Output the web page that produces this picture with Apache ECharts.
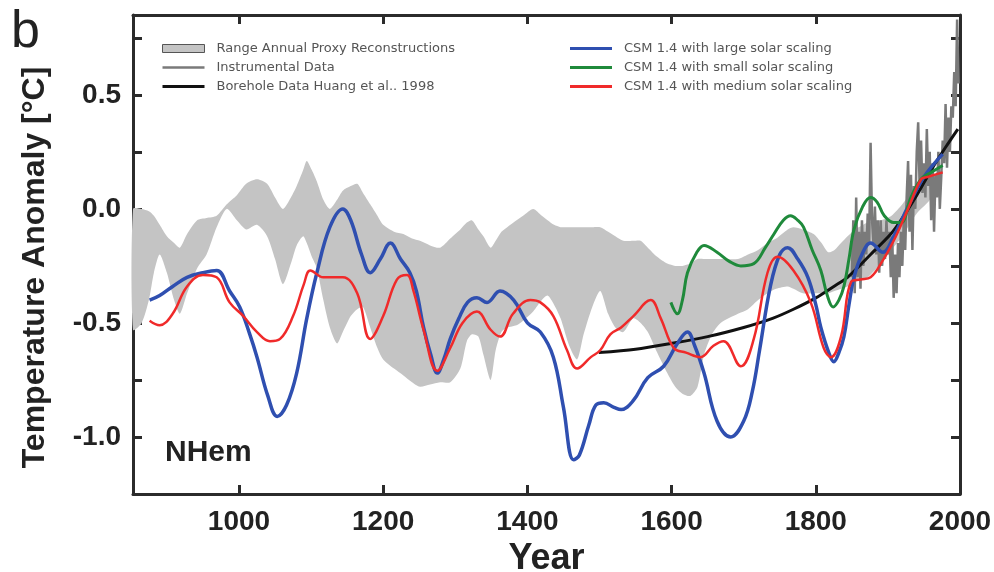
<!DOCTYPE html>
<html>
<head>
<meta charset="utf-8">
<style>
    html, body {
        margin: 0;
        padding: 0;
        background: #fff;
    }

    #main {
        width: 994px;
        height: 572px;
    }
</style>
<script src="https://cdn.jsdelivr.net/npm/echarts@6/dist/echarts.min.js"></script>
</head>
<body>
<div id="main"></div>
<script>
    // 代理重建范围（上下边界）
    var bandYears = [853, 865, 875, 882, 890, 900, 910, 918, 928, 942, 955, 969, 983, 997, 1010, 1025, 1039, 1050, 1061, 1072,
        1080, 1089, 1094, 1101, 1108, 1117, 1126, 1136, 1144, 1155, 1164, 1172, 1182, 1192, 1200, 1215, 1228, 1240, 1251, 1265,
        1279, 1293, 1307, 1316, 1323, 1332, 1339, 1349, 1356, 1364, 1372, 1385, 1394, 1408, 1420, 1428, 1437, 1446, 1458, 1469,
        1478, 1490, 1501, 1512, 1522, 1533, 1547, 1557, 1567, 1580, 1594, 1605, 1615, 1626, 1636, 1645, 1656, 1668, 1692, 1706,
        1720, 1733, 1745, 1761, 1769, 1782, 1797, 1808, 1817, 1826, 1835, 1844, 1855, 1872, 1890, 1905, 1920, 1940, 1960];
    var bandHigh = [0.00, 0.00, -0.01, -0.03, -0.07, -0.12, -0.15, -0.17, -0.11, -0.05, -0.04, -0.03, 0.02, 0.06, 0.11, 0.13, 0.11, 0.05, 0.00, 0.05,
        0.10, 0.17, 0.21, 0.17, 0.12, 0.04, 0.00, 0.04, 0.08, 0.10, 0.11, 0.07, 0.02, -0.03, -0.07, -0.10, -0.11, -0.13, -0.14, -0.16,
        -0.17, -0.13, -0.09, -0.06, -0.05, -0.09, -0.12, -0.17, -0.14, -0.10, -0.08, -0.05, -0.03, 0.00, -0.03, -0.05, -0.07, -0.08, -0.08, -0.08,
        -0.08, -0.08, -0.08, -0.10, -0.12, -0.14, -0.14, -0.14, -0.17, -0.21, -0.24, -0.25, -0.25, -0.24, -0.22, -0.22, -0.22, -0.22, -0.22, -0.20,
        -0.18, -0.15, -0.13, -0.09, -0.08, -0.09, -0.11, -0.15, -0.19, -0.18, -0.15, -0.12, -0.09, -0.06, -0.05, -0.03, 0.02, 0.10, 0.15];
    var bandLow = [-0.53, -0.50, -0.40, -0.28, -0.20, -0.28, -0.40, -0.46, -0.37, -0.26, -0.20, -0.08, 0.00, -0.05, -0.09, -0.07, -0.12, -0.22, -0.33, -0.24,
        -0.16, -0.12, -0.15, -0.21, -0.26, -0.40, -0.52, -0.59, -0.54, -0.47, -0.44, -0.43, -0.52, -0.61, -0.66, -0.70, -0.73, -0.76, -0.78, -0.77,
        -0.76, -0.76, -0.70, -0.58, -0.55, -0.56, -0.64, -0.75, -0.62, -0.54, -0.52, -0.51, -0.49, -0.45, -0.40, -0.38, -0.42, -0.48, -0.60, -0.66,
        -0.55, -0.43, -0.36, -0.46, -0.52, -0.54, -0.48, -0.50, -0.54, -0.63, -0.72, -0.78, -0.81, -0.82, -0.78, -0.64, -0.55, -0.50, -0.46, -0.44,
        -0.40, -0.37, -0.35, -0.34, -0.35, -0.37, -0.37, -0.37, -0.37, -0.36, -0.35, -0.34, -0.32, -0.30, -0.24, -0.18, -0.12, -0.02, 0.05];

    // 器测数据
    var instYears = [1850, 1852, 1854, 1856, 1858, 1860, 1862, 1864, 1866, 1868, 1870, 1872, 1874, 1876, 1878, 1880, 1882, 1884, 1886, 1888,
        1890, 1892, 1894, 1896, 1898, 1900, 1902, 1904, 1906, 1908, 1910, 1912, 1914, 1916, 1918, 1920, 1922, 1924, 1926, 1928,
        1930, 1932, 1934, 1936, 1938, 1940, 1942, 1944, 1946, 1948, 1950, 1952, 1954, 1956, 1958, 1960, 1962, 1964, 1966, 1968,
        1970, 1972, 1974, 1976, 1978, 1980, 1982, 1984, 1986, 1988, 1990, 1992, 1994, 1996, 1998];
    var instValues = [-0.30, -0.05, -0.37, 0.05, -0.30, -0.10, -0.35, -0.05, -0.25, -0.10, -0.20, -0.02, -0.15, 0.29, -0.05, -0.15, 0.01, -0.20, -0.05, -0.28,
        -0.05, -0.25, -0.10, -0.22, -0.05, -0.20, -0.10, -0.30, -0.12, -0.39, -0.20, -0.37, -0.15, -0.30, -0.10, -0.25, -0.05, -0.18, 0.05, 0.21,
        -0.10, 0.15, -0.18, 0.10, 0.00, 0.25, 0.38, 0.10, 0.30, 0.07, 0.20, 0.05, 0.35, 0.10, 0.25, -0.05, 0.20, -0.10, 0.15, 0.05,
        0.25, 0.00, 0.14, 0.30, 0.20, 0.46, 0.18, 0.40, 0.25, 0.45, 0.40, 0.60, 0.45, 0.83, 0.55];

    // 钻孔数据 Huang et al. 1998
    var boreYears = [1499, 1550, 1599, 1650, 1700, 1740, 1769, 1800, 1825, 1844, 1876, 1904, 1918, 1940, 1960, 1980, 1997];
    var boreValues = [-0.63, -0.615, -0.59, -0.56, -0.52, -0.48, -0.44, -0.39, -0.34, -0.30, -0.20, -0.11, -0.05, 0.06, 0.17, 0.27, 0.35];

    // CSM 1.4 large solar scaling
    var largeYears = [876, 890, 908, 928, 950, 969, 987, 1001, 1015, 1025, 1040, 1053, 1066, 1080, 1094, 1108, 1126, 1144, 1155, 1170,
        1182, 1196, 1210, 1224, 1237, 1246, 1256, 1266, 1275, 1284, 1293, 1305, 1317, 1330, 1344, 1362, 1381, 1400, 1418, 1436,
        1450, 1464, 1472, 1485, 1495, 1506, 1520, 1530, 1547, 1567, 1589, 1608, 1622, 1632, 1645, 1663, 1682, 1700, 1712, 1722,
        1737, 1750, 1761, 1775, 1789, 1800, 1807, 1818, 1825, 1832, 1839, 1846, 1853, 1864, 1876, 1893, 1908, 1928, 1950, 1976];
    var largeValues = [-0.40, -0.38, -0.34, -0.30, -0.28, -0.27, -0.36, -0.43, -0.55, -0.65, -0.82, -0.91, -0.86, -0.72, -0.48, -0.28, -0.08, 0.00, -0.05, -0.20,
        -0.28, -0.22, -0.15, -0.22, -0.28, -0.36, -0.52, -0.64, -0.72, -0.66, -0.57, -0.48, -0.41, -0.39, -0.41, -0.36, -0.40, -0.50, -0.54, -0.65,
        -0.87, -1.10, -1.08, -0.95, -0.86, -0.85, -0.87, -0.88, -0.84, -0.74, -0.69, -0.59, -0.54, -0.60, -0.72, -0.93, -1.00, -0.93, -0.80, -0.62,
        -0.34, -0.20, -0.17, -0.22, -0.30, -0.42, -0.52, -0.63, -0.67, -0.63, -0.56, -0.42, -0.30, -0.20, -0.15, -0.19, -0.12, 0.01, 0.14, 0.24];

    // CSM 1.4 small solar scaling
    var smallYears = [1599, 1608, 1615, 1622, 1635, 1645, 1663, 1680, 1696, 1714, 1730, 1742, 1755, 1765, 1775, 1783, 1795, 1807, 1816, 1824,
        1832, 1839, 1846, 1853, 1865, 1876, 1885, 1895, 1908, 1918, 1932, 1946, 1960, 1976];
    var smallValues = [-0.41, -0.46, -0.40, -0.28, -0.19, -0.16, -0.19, -0.23, -0.25, -0.24, -0.17, -0.11, -0.05, -0.03, -0.05, -0.08, -0.18, -0.27, -0.38, -0.43,
        -0.40, -0.34, -0.22, -0.09, 0.01, 0.05, 0.03, -0.03, -0.06, -0.06, 0.05, 0.13, 0.16, 0.19];

    // CSM 1.4 medium solar scaling
    var mediumYears = [876, 890, 908, 928, 950, 969, 987, 1006, 1025, 1043, 1057, 1075, 1090, 1099, 1117, 1144, 1164, 1182, 1200, 1219,
        1233, 1242, 1256, 1275, 1293, 1310, 1330, 1349, 1362, 1380, 1404, 1418, 1436, 1455, 1469, 1488, 1501, 1515, 1530, 1547,
        1571, 1585, 1603, 1620, 1640, 1658, 1672, 1696, 1714, 1733, 1747, 1769, 1793, 1811, 1821, 1835, 1849, 1862, 1876, 1894,
        1908, 1928, 1946, 1955, 1976];
    var mediumValues = [-0.49, -0.51, -0.46, -0.34, -0.29, -0.30, -0.41, -0.47, -0.54, -0.58, -0.57, -0.47, -0.33, -0.27, -0.30, -0.30, -0.37, -0.57, -0.47, -0.31,
        -0.29, -0.36, -0.53, -0.71, -0.61, -0.50, -0.45, -0.53, -0.56, -0.46, -0.40, -0.41, -0.47, -0.62, -0.70, -0.65, -0.62, -0.55, -0.52, -0.47,
        -0.40, -0.48, -0.61, -0.63, -0.65, -0.60, -0.58, -0.69, -0.57, -0.28, -0.21, -0.27, -0.41, -0.61, -0.65, -0.56, -0.32, -0.31, -0.30, -0.22,
        -0.14, 0.00, 0.13, 0.14, 0.16];

    var xTicks = [1000, 1200, 1400, 1600, 1800, 2000];
    var yTicks = [-1.0, -0.75, -0.5, -0.25, 0.0, 0.25, 0.5, 0.75];
    var yLabels = [-1.0, -0.5, 0.0, 0.5];

    function pairs(xs, ys) {
        return xs.map(function (x, i) {
            return [x, ys[i]];
        });
    }

    var axisFont = '"Liberation Sans", Arial, sans-serif';
    var frameLine = {color: '#2b2b2b', width: 3};
    var tickStyle = {color: '#2b2b2b', width: 3};
    var legendText = {fontFamily: 'DejaVu Sans', fontSize: 13, color: '#555', lineHeight: 15, padding: [0, 0, 0, 7]};

    var myChart = echarts.init(document.getElementById('main'));

    var option = {
        animation: false,
        grid: {left: 133, right: 34, top: 15, bottom: 78, outerBoundsMode: 'none', containLabel: false},
        legend: [{
            orient: 'vertical',
            left: 157,
            top: 36,
            itemWidth: 42,
            itemHeight: 8,
            itemGap: 4,
            selectedMode: false,
            textStyle: legendText,
            data: [
                {name: 'Range Annual Proxy Reconstructions', icon: 'path://M0,0 L42,0 L42,8 L0,8 Z', itemStyle: {color: '#c4c4c4', borderColor: '#555', borderWidth: 1}},
                {name: 'Instrumental Data', icon: 'path://M0,0 L42,0 L42,2.5 L0,2.5 Z'},
                {name: 'Borehole Data Huang et al.. 1998', icon: 'path://M0,0 L42,0 L42,3 L0,3 Z'}
            ]
        }, {
            orient: 'vertical',
            left: 565,
            top: 36,
            itemWidth: 42,
            itemHeight: 8,
            itemGap: 4,
            selectedMode: false,
            textStyle: legendText,
            data: [
                {name: 'CSM 1.4 with large solar scaling', icon: 'path://M0,0 L42,0 L42,3 L0,3 Z'},
                {name: 'CSM 1.4 with small solar scaling', icon: 'path://M0,0 L42,0 L42,3 L0,3 Z'},
                {name: 'CSM 1.4 with medium solar scaling', icon: 'path://M0,0 L42,0 L42,3 L0,3 Z'}
            ]
        }],
        xAxis: [{
            type: 'value',
            min: 853,
            max: 2000,
            position: 'bottom',
            name: 'Year',
            nameLocation: 'middle',
            nameGap: 42,
            nameTextStyle: {fontFamily: axisFont, fontWeight: 'bold', fontSize: 36, color: '#222'},
            axisLine: {onZero: false, lineStyle: frameLine},
            axisTick: {inside: true, length: 9, lineStyle: tickStyle, customValues: xTicks},
            axisLabel: {
                customValues: xTicks,
                margin: 14,
                fontFamily: axisFont,
                fontWeight: 'bold',
                fontSize: 28,
                color: '#222',
                formatter: function (v) {
                    return String(v);
                }
            },
            splitLine: {show: false}
        }, {
            type: 'value',
            min: 853,
            max: 2000,
            position: 'top',
            axisLine: {onZero: false, lineStyle: frameLine},
            axisTick: {inside: true, length: 9, lineStyle: tickStyle, customValues: xTicks},
            axisLabel: {show: false},
            splitLine: {show: false}
        }],
        yAxis: [{
            type: 'value',
            min: -1.25,
            max: 0.85,
            position: 'left',
            name: 'Temperature Anomaly [°C]',
            nameLocation: 'middle',
            nameRotate: 90,
            nameGap: 82,
            nameTextStyle: {fontFamily: axisFont, fontWeight: 'bold', fontSize: 32, color: '#222', padding: [0, 26, 0, 0]},
            axisLine: {onZero: false, lineStyle: frameLine},
            axisTick: {inside: true, length: 9, lineStyle: tickStyle, customValues: yTicks},
            axisLabel: {
                customValues: yLabels,
                margin: 12,
                fontFamily: axisFont,
                fontWeight: 'bold',
                fontSize: 28,
                color: '#222',
                formatter: function (v) {
                    return v.toFixed(1);
                }
            },
            splitLine: {show: false}
        }, {
            type: 'value',
            min: -1.25,
            max: 0.85,
            position: 'right',
            axisLine: {onZero: false, lineStyle: frameLine},
            axisTick: {inside: true, length: 9, lineStyle: tickStyle, customValues: yTicks},
            axisLabel: {show: false},
            splitLine: {show: false}
        }],
        graphic: [{
            type: 'text',
            left: 11,
            top: 7,
            style: {text: 'b', font: '52px "Liberation Sans"', fill: '#222'}
        }, {
            type: 'text',
            left: 165,
            top: 438,
            style: {text: 'NHem', font: 'bold 30px "Liberation Sans"', fill: '#222'}
        }],
        series: [{
            name: 'Range Annual Proxy Reconstructions',
            type: 'custom',
            itemStyle: {color: '#c4c4c4'},
            encode: {x: 0, y: [1, 2]},
            data: bandYears.map(function (y, i) {
                return [y, bandLow[i], bandHigh[i]];
            }),
            renderItem: function (params, api) {
                if (params.dataIndex !== 0) {
                    return null;
                }
                var pts = [];
                for (var i = 0; i < bandYears.length; i++) {
                    pts.push(api.coord([bandYears[i], bandHigh[i]]));
                }
                for (var j = bandYears.length - 1; j >= 0; j--) {
                    pts.push(api.coord([bandYears[j], bandLow[j]]));
                }
                return {
                    type: 'polygon',
                    shape: {points: pts, smooth: 0.25},
                    style: {fill: '#c4c4c4'}
                };
            }
        }, {
            name: 'Instrumental Data',
            type: 'line',
            color: '#7a7a7a',
            symbol: 'none',
            lineStyle: {width: 2.5, color: '#7a7a7a'},
            data: pairs(instYears, instValues)
        }, {
            name: 'Borehole Data Huang et al.. 1998',
            type: 'line',
            color: '#111',
            symbol: 'none',
            smooth: 0.3,
            lineStyle: {width: 3, color: '#111'},
            data: pairs(boreYears, boreValues)
        }, {
            name: 'CSM 1.4 with large solar scaling',
            type: 'line',
            color: '#2f4fb0',
            symbol: 'none',
            smooth: 0.4,
            lineStyle: {width: 3.5, color: '#2f4fb0'},
            data: pairs(largeYears, largeValues)
        }, {
            name: 'CSM 1.4 with small solar scaling',
            type: 'line',
            color: '#1f8a3b',
            symbol: 'none',
            smooth: 0.4,
            lineStyle: {width: 3, color: '#1f8a3b'},
            data: pairs(smallYears, smallValues)
        }, {
            name: 'CSM 1.4 with medium solar scaling',
            type: 'line',
            color: '#f02a2a',
            symbol: 'none',
            smooth: 0.4,
            lineStyle: {width: 2.5, color: '#f02a2a'},
            data: pairs(mediumYears, mediumValues)
        }]
    };

    myChart.setOption(option);
</script>
</body>
</html>
